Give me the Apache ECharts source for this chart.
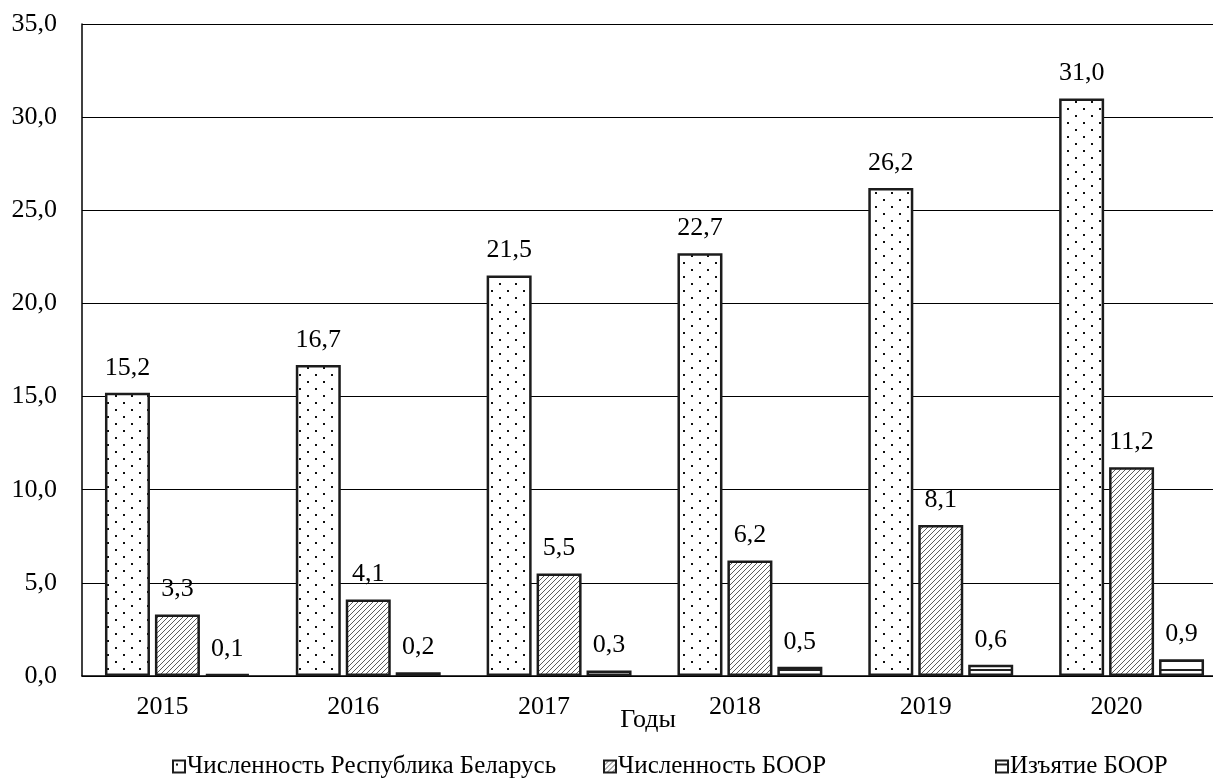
<!DOCTYPE html>
<html>
<head>
<meta charset="utf-8">
<script src="https://cdn.jsdelivr.net/npm/echarts@6/dist/echarts.min.js"></script>
<style>
html,body{margin:0;padding:0;background:#fff;}
#chart{width:1213px;height:780px;}
</style>
</head>
<body>
<div id="chart"></div>
<script>
const years = ['2015', '2016', '2017', '2018', '2019', '2020'];
const seriesNames = ['Численность Республика Беларусь', 'Численность БООР', 'Изъятие БООР'];
const popBelarus = [15.2, 16.7, 21.5, 22.7, 26.2, 31.0];
const popBOOR = [3.3, 4.1, 5.5, 6.2, 8.1, 11.2];
const harvestBOOR = [0.1, 0.2, 0.3, 0.5, 0.6, 0.9];
const axisTitle = 'Годы';

const FONT = "'Liberation Serif', 'Times New Roman', serif";

function dotPattern() {
  const c = document.createElement('canvas');
  c.width = 16; c.height = 14;
  const g = c.getContext('2d');
  g.fillStyle = '#fff'; g.fillRect(0, 0, 16, 14);
  g.fillStyle = '#111';
  g.fillRect(3, 3, 2, 2);
  g.fillRect(11, 10, 2, 2);
  return c;
}
function hatchPattern() {
  const s = 5;
  const c = document.createElement('canvas');
  c.width = s; c.height = s;
  const g = c.getContext('2d');
  g.fillStyle = '#fff'; g.fillRect(0, 0, s, s);
  g.strokeStyle = '#333'; g.lineWidth = 0.8;
  g.beginPath();
  g.moveTo(0, s); g.lineTo(s, 0);
  g.moveTo(-1, 1); g.lineTo(1, -1);
  g.moveTo(s - 1, s + 1); g.lineTo(s + 1, s - 1);
  g.stroke();
  return c;
}
function hLinePattern() {
  const c = document.createElement('canvas');
  c.width = 4; c.height = 9;
  const g = c.getContext('2d');
  g.fillStyle = '#fff'; g.fillRect(0, 0, 4, 9);
  g.fillStyle = '#222'; g.fillRect(0, 3, 4, 2);
  return c;
}

const fmt = v => Number(v).toFixed(1).replace('.', ',');

const labelCfg = {
  show: true, position: 'top', distance: 12,
  color: '#000', fontSize: 26, fontFamily: FONT,
  formatter: p => fmt(p.value)
};

function barSeries(name, data, pattern) {
  return {
    name: name, type: 'bar', data: data,
    barWidth: 45, barGap: '11%',
    itemStyle: { color: { image: pattern, repeat: 'repeat' }, borderColor: '#1c1c1c', borderWidth: 2.5 },
    label: labelCfg,
    emphasis: { disabled: true }
  };
}

function legendAt(name, left) {
  return {
    data: [name], top: 749, left: left,
    icon: 'rect', itemWidth: 12, itemHeight: 12,
    textStyle: { fontSize: 25, fontFamily: FONT, color: '#000', padding: [0, 0, 0, -3] },
    selectedMode: false
  };
}

const chart = echarts.init(document.getElementById('chart'), null, { renderer: 'canvas' });
chart.setOption({
  animation: false,
  backgroundColor: '#fff',
  textStyle: { fontFamily: FONT, color: '#000' },
  grid: { left: 82, top: 24, width: 1145, height: 652, containLabel: false, outerBoundsMode: 'none' },
  legend: [
    legendAt(seriesNames[0], 167),
    legendAt(seriesNames[1], 598),
    legendAt(seriesNames[2], 990)
  ],
  xAxis: {
    type: 'category', data: years,
    axisLine: { lineStyle: { color: '#000', width: 1.5 } },
    axisTick: { show: false },
    axisLabel: { color: '#000', fontSize: 26, fontFamily: FONT, margin: 18, padding: [0, 30, 0, 0] },
    name: axisTitle, nameLocation: 'middle', nameGap: 31, nameMoveOverlap: false,
    nameTextStyle: { color: '#000', fontSize: 26, fontFamily: FONT, padding: [0, 13, 0, 0] }
  },
  yAxis: {
    type: 'value', min: 0, max: 35, interval: 5,
    axisLine: { show: true, lineStyle: { color: '#000', width: 1.5 } },
    axisTick: { show: false },
    axisLabel: { color: '#000', fontSize: 26, fontFamily: FONT, margin: 25, formatter: v => fmt(v) },
    splitLine: { lineStyle: { color: '#000', width: 1 } }
  },
  series: [
    barSeries(seriesNames[0], popBelarus, dotPattern()),
    barSeries(seriesNames[1], popBOOR, hatchPattern()),
    barSeries(seriesNames[2], harvestBOOR, hLinePattern())
  ]
});
</script>
</body>
</html>
